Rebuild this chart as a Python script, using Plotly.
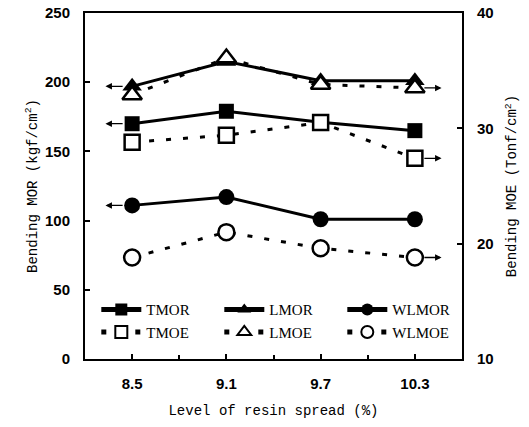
import plotly.graph_objects as go

x = [8.5, 9.1, 9.7, 10.3]
TMOR = [170, 179, 171, 165]
LMOR = [197, 215, 201, 201]
WLMOR = [111, 117, 101, 101]
TMOE = [28.8, 29.4, 30.5, 27.4]
LMOE = [32.9, 36.1, 33.8, 33.5]
WLMOE = [18.8, 21.0, 19.6, 18.8]

x_ticks = [8.5, 9.1, 9.7, 10.3]
y_ticks = [0, 50, 100, 150, 200, 250]
y2_ticks = [10, 20, 30, 40]

fig = go.Figure()

solid = dict(color="black", width=3)
dashed = dict(color="black", width=3, dash="5px,12px")

fig.add_trace(go.Scatter(x=x, y=TMOR, name="TMOR", mode="lines+markers", line=solid,
                         marker=dict(symbol="square", size=15, color="black")))
fig.add_trace(go.Scatter(x=x, y=LMOR, name="LMOR", mode="lines+markers", line=solid,
                         marker=dict(symbol="triangle-up", size=17, color="black")))
fig.add_trace(go.Scatter(x=x, y=WLMOR, name="WLMOR", mode="lines+markers", line=solid,
                         marker=dict(symbol="circle", size=16, color="black")))
fig.add_trace(go.Scatter(x=x, y=TMOE, name="TMOE", mode="lines+markers", line=dashed, yaxis="y2",
                         marker=dict(symbol="square", size=15, color="white",
                                     line=dict(color="black", width=2.5))))
fig.add_trace(go.Scatter(x=x, y=LMOE, name="LMOE", mode="lines+markers", line=dashed, yaxis="y2",
                         marker=dict(symbol="triangle-up", size=17, color="white",
                                     line=dict(color="black", width=2.5))))
fig.add_trace(go.Scatter(x=x, y=WLMOE, name="WLMOE", mode="lines+markers", line=dashed, yaxis="y2",
                         marker=dict(symbol="circle", size=16, color="white",
                                     line=dict(color="black", width=2.5))))

annotations = []
for s in (TMOR, LMOR, WLMOR):
    annotations.append(dict(x=8.33, y=s[0], ax=x[0], ay=s[0], xref="x", yref="y",
                            axref="x", ayref="y", showarrow=True, arrowhead=2,
                            arrowsize=1, arrowwidth=1.3, arrowcolor="black",
                            startstandoff=8, text=""))
for s in (TMOE, LMOE, WLMOE):
    annotations.append(dict(x=10.47, y=s[-1], ax=x[-1], ay=s[-1], xref="x", yref="y2",
                            axref="x", ayref="y2", showarrow=True, arrowhead=2,
                            arrowsize=1, arrowwidth=1.3, arrowcolor="black",
                            startstandoff=8, text=""))

tickfont = dict(family="Liberation Sans", size=15, color="black", weight="bold")
titlefont = dict(family="Liberation Mono", size=14, color="black")

fig.update_layout(
    width=529, height=427,
    margin=dict(l=85, r=67, t=13, b=68),
    paper_bgcolor="white", plot_bgcolor="white",
    annotations=annotations,
    xaxis=dict(range=[8.2, 10.6], tickvals=x_ticks, ticktext=[str(v) for v in x_ticks],
               ticks="inside", ticklen=5, tickwidth=1.5, tickcolor="black",
               minor=dict(tickvals=[8.8, 9.4, 10.0], ticks="inside", ticklen=4, tickcolor="black"),
               showline=True, linecolor="black", linewidth=2, mirror=True,
               showgrid=False, zeroline=False, tickfont=tickfont, ticklabelstandoff=10,
               automargin=False,
               title=dict(text="Level of resin spread (%)", font=titlefont, standoff=14)),
    yaxis=dict(range=[0, 250], tickvals=y_ticks, ticks="inside", ticklen=5, tickwidth=1.5,
               tickcolor="black", showline=True, linecolor="black", linewidth=2,
               showgrid=False, zeroline=False, tickfont=tickfont, ticklabelstandoff=10,
               automargin=False,
               title=dict(text="Bending MOR (kgf/cm<sup>2</sup>)", font=titlefont, standoff=4)),
    yaxis2=dict(range=[10, 40], tickvals=y2_ticks, overlaying="y", side="right",
                ticks="inside", ticklen=5, tickwidth=1.5, tickcolor="black",
                showline=True, linecolor="black", linewidth=2,
                showgrid=False, zeroline=False, tickfont=tickfont, ticklabelstandoff=10,
                automargin=False,
                title=dict(text="Bending MOE (Tonf/cm<sup>2</sup>)", font=titlefont, standoff=14)),
    legend=dict(orientation="h", x=0.03, y=0.19, xanchor="left", yanchor="top",
                entrywidth=68, entrywidthmode="pixels", bgcolor="rgba(0,0,0,0)",
                font=dict(family="Liberation Serif", size=15, color="black"),
                itemwidth=40, itemsizing="constant", tracegroupgap=0),
    showlegend=True,
)

fig.write_html("out.html")
